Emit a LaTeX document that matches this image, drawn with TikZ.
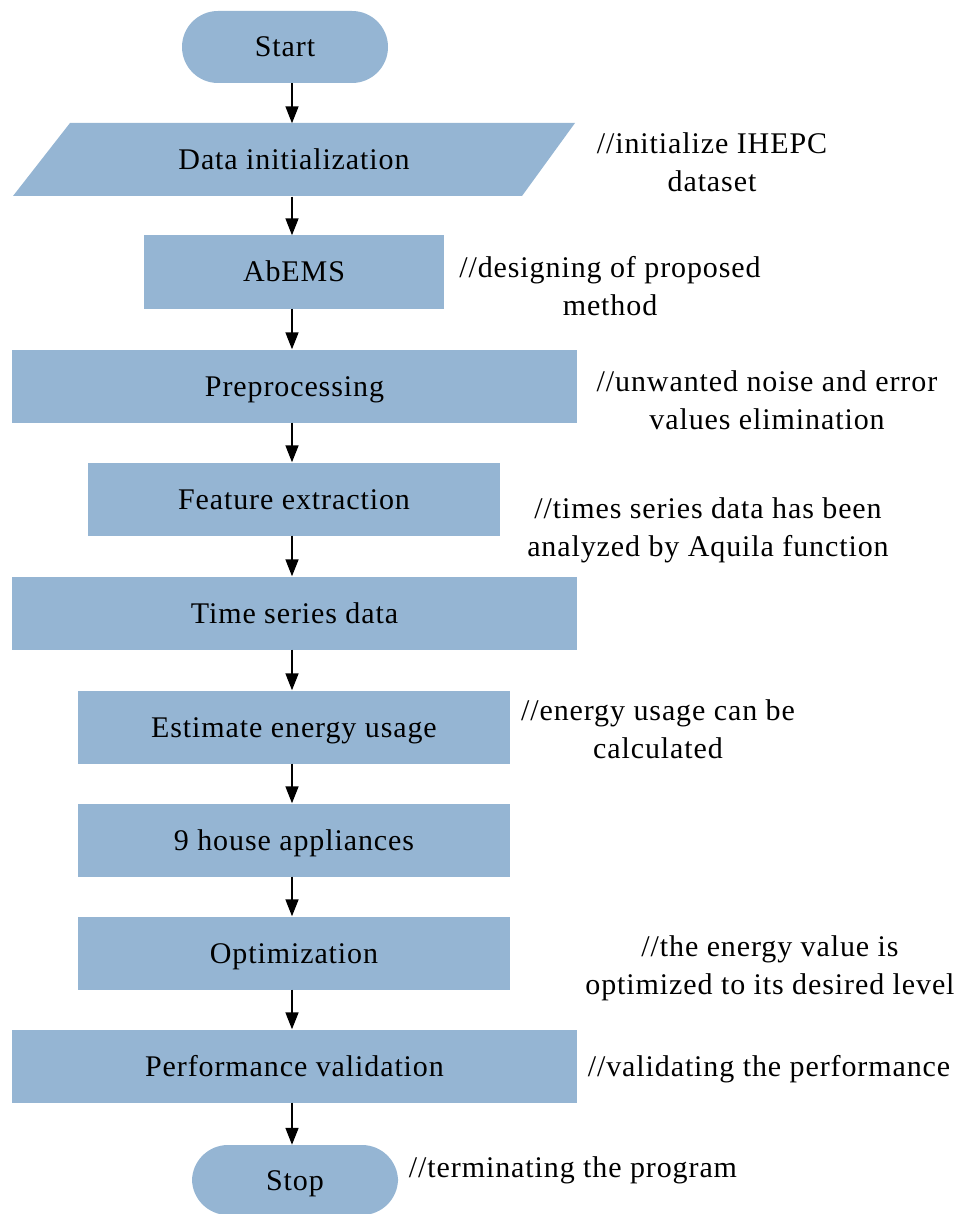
\documentclass[tikz,border=0pt]{standalone}
\usepackage{fontspec}
\setmainfont{Liberation Serif}[LetterSpace=3]
\usetikzlibrary{arrows.meta}
\definecolor{boxblue}{HTML}{95B5D3}
\begin{document}
\begin{tikzpicture}[x=1pt,y=-1pt,
  every node/.style={font=\fontsize{30}{38}\selectfont, inner sep=0pt},
  box/.style={fill=boxblue, minimum height=73pt, text height=20pt, text depth=0pt},
  term/.style={fill=boxblue, rounded corners=36pt, minimum width=206pt, minimum height=72pt, text height=20pt, text depth=0pt},
  note/.style={align=center},
  arr/.style={line width=1.6pt, -{Triangle[length=17pt,width=13pt]}}]
\useasboundingbox (0,0) rectangle (959,1214);
\coordinate (ax) at (292,0);
\node[term] (start) at (285,47) {Start};
\fill[boxblue] (70,123) -- (575,123) -- (522,196) -- (13,196) -- cycle;
\node[minimum width=300pt, minimum height=73pt, text height=20pt, text depth=0pt] (init) at (294,160) {Data initialization};
\node[box, minimum width=300pt] (abems) at (294,272) {AbEMS};
\node[box, minimum width=565pt] (pre) at (294.5,386) {Preprocessing};
\node[box, minimum width=412pt] (feat) at (294,499) {Feature extraction};
\node[box, minimum width=565pt] (ts) at (294.5,613) {Time series data};
\node[box, minimum width=432pt] (est) at (294,727) {Estimate energy usage};
\node[box, minimum width=432pt] (app) at (294,840) {9 house appliances};
\node[box, minimum width=432pt] (opt) at (294,953) {Optimization};
\node[box, minimum width=565pt] (perf) at (294.5,1066) {Performance validation};
\node[term, minimum height=70pt] (stop) at (295,1180) {Stop};

\draw[arr] (start.south -| ax) -- (init.north -| ax);
\draw[arr] (init.south -| ax) -- (abems.north -| ax);
\draw[arr] (abems.south -| ax) -- (pre.north -| ax);
\draw[arr] (pre.south -| ax) -- (feat.north -| ax);
\draw[arr] (feat.south -| ax) -- (ts.north -| ax);
\draw[arr] (ts.south -| ax) -- (est.north -| ax);
\draw[arr] (est.south -| ax) -- (app.north -| ax);
\draw[arr] (app.south -| ax) -- (opt.north -| ax);
\draw[arr] (opt.south -| ax) -- (perf.north -| ax);
\draw[arr] (perf.south -| ax) -- (stop.north -| ax);

\node[note] (n1) at (712,162) {//initialize IHEPC\\dataset};
\node[note] (n2) at (610,286) {//designing of proposed\\method};
\node[note] (n3) at (767,400) {//unwanted noise and error\\values elimination};
\node[note] (n4) at (708,530) {//times series data has been\\analyzed by Aquila function};
\node[note] (n5) at (658,729) {//energy usage can be\\calculated};
\node[note] (n6) at (770,968) {//the energy value is\\optimized to its desired level};
\node[note] (n7) at (769,1069) {//validating the performance};
\node[note] (n8) at (573,1170) {//terminating the program};
\end{tikzpicture}
\end{document}
